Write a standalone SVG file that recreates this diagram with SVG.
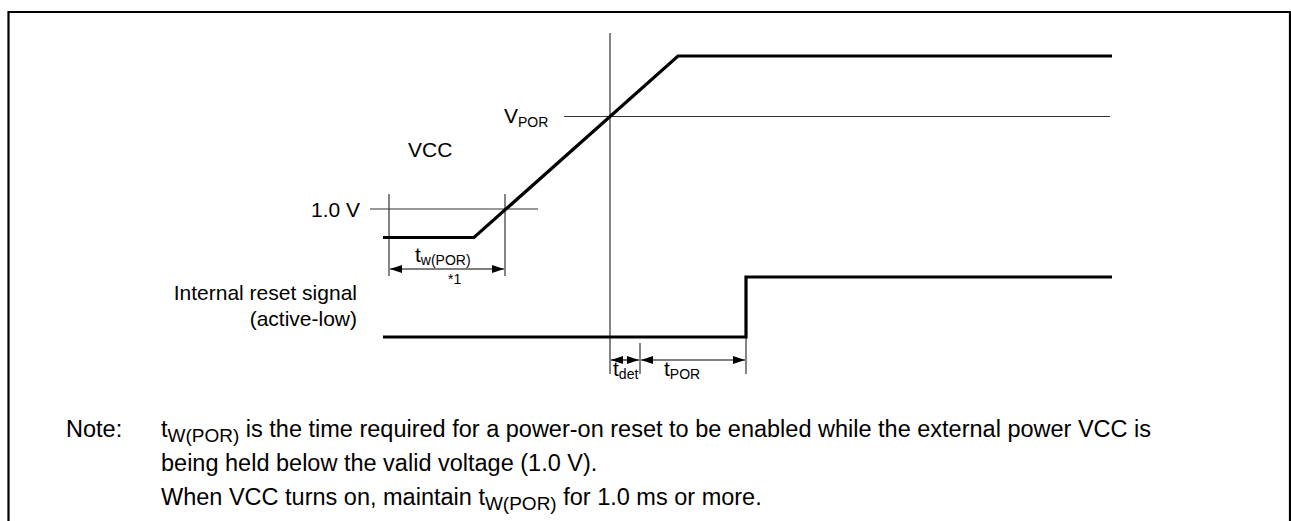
<svg xmlns="http://www.w3.org/2000/svg" width="1291" height="521" viewBox="0 0 1291 521">
<style>
text{font-family:"Liberation Sans",Arial,sans-serif;fill:#000}
.lbl{font-size:21px}
.sub{font-size:14px}
.small{font-size:14px}
.note{font-size:23.5px}
.nsub{font-size:19px}
.sig{fill:none;stroke:#000;stroke-width:3.2;stroke-linejoin:miter}
.thin{fill:none;stroke:#333;stroke-width:1.2}
.dim{fill:none;stroke:#000;stroke-width:1.2}
</style>
<defs>
<marker id="ah" viewBox="0 0 12 8" refX="12" refY="4" markerWidth="12" markerHeight="8" markerUnits="userSpaceOnUse" orient="auto-start-reverse">
<path d="M0,0 L12,4 L0,8 Z" fill="#000"/>
</marker>
</defs>
<rect width="1291" height="521" fill="#fff"/>
<path d="M8.5,521 V12 H1290 V521" fill="none" stroke="#000" stroke-width="2.2"/>
<g id="connectors">
<line class="thin" x1="610" y1="33" x2="610" y2="374"/>
<line class="thin" x1="564" y1="116.5" x2="1110" y2="116.5"/>
<line class="thin" x1="370" y1="209" x2="538" y2="209"/>
<line class="thin" x1="389" y1="194" x2="389" y2="276"/>
<line class="thin" x1="505" y1="194" x2="505" y2="276"/>
<line class="thin" x1="640" y1="343" x2="640" y2="374"/>
<line class="thin" x1="746" y1="337" x2="746" y2="374"/>
<line class="dim" x1="390" y1="269" x2="504" y2="269" marker-start="url(#ah)" marker-end="url(#ah)"/>
<line class="dim" x1="611" y1="360" x2="639" y2="360" marker-start="url(#ah)" marker-end="url(#ah)"/>
<line class="dim" x1="641" y1="360" x2="745" y2="360" marker-start="url(#ah)" marker-end="url(#ah)"/>
</g>
<g id="vcc-signal">
<path class="sig" d="M383,237.5 H474 L678,56 H1112"/>
</g>
<g id="reset-signal">
<path class="sig" d="M383,337 H746 V277 H1112"/>
</g>
<g id="labels">
<text class="lbl" x="504" y="123">V<tspan class="sub" dy="4">POR</tspan></text>
<text class="lbl" x="408" y="157">VCC</text>
<text class="lbl" x="360" y="217" text-anchor="end">1.0 V</text>
<text class="lbl" x="357" y="300" text-anchor="end">Internal reset signal</text>
<text class="lbl" x="357" y="326" text-anchor="end">(active-low)</text>
<text class="lbl" x="415" y="262">t<tspan class="sub" dy="3">w(POR)</tspan></text>
<text class="small" x="448" y="284">*1</text>
<text class="lbl" x="613" y="376">t<tspan class="sub" dy="3">det</tspan></text>
<text class="lbl" x="664" y="376">t<tspan class="sub" dy="3">POR</tspan></text>
</g>
<g id="note">
<text class="note" x="66" y="437">Note:</text>
<text class="note" x="161" y="437">t<tspan class="nsub" dy="5">W(POR)</tspan><tspan dy="-5"> is the time required for a power-on reset to be enabled while the external power VCC is</tspan></text>
<text class="note" x="161" y="471">being held below the valid voltage (1.0 V).</text>
<text class="note" x="161" y="505">When VCC turns on, maintain t<tspan class="nsub" dy="5">W(POR)</tspan><tspan dy="-5"> for 1.0 ms or more.</tspan></text>
</g>
</svg>
